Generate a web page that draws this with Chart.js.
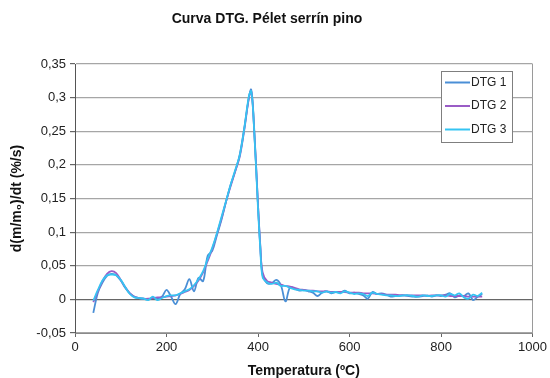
<!DOCTYPE html>
<html>
<head>
<meta charset="utf-8">
<script src="https://cdn.jsdelivr.net/npm/chart.js@4/dist/chart.umd.min.js"></script>
<style>
  html, body { margin: 0; padding: 0; background: #fff; }
  #wrap { width: 550px; height: 378px; }
</style>
</head>
<body>
<div id="wrap"><canvas id="grafico"></canvas></div>
<script>
// Temperaturas (ºC) comunes a los tres ensayos
const temps = [40, 50, 60, 70, 80, 90, 100, 110, 120, 130, 140, 150, 160, 170, 180, 190, 200,
    210, 220, 230, 240, 250, 260, 270, 280, 290, 300, 310, 320, 330, 340, 350, 360, 370, 380, 385,
    390, 400, 405, 410, 420, 430, 440, 450, 460, 470, 480, 490, 500, 510, 520, 530, 540, 550, 560,
    570, 580, 590, 600, 610, 620, 630, 640, 650, 660, 670, 680, 690, 700, 710, 720, 730, 740, 750,
    760, 770, 780, 790, 800, 810, 820, 830, 840, 850, 860, 870, 880, 890];

const dtg1 = [-0.020, 0.010, 0.025, 0.035, 0.038, 0.036, 0.028, 0.017, 0.009, 0.004, 0.002, 0.001,
    0.000, 0.002, 0.001, 0.004, 0.014, 0.004, -0.007, 0.008, 0.015, 0.030, 0.012, 0.032, 0.027,
    0.065, 0.072, 0.095, 0.118, 0.145, 0.170, 0.190, 0.215, 0.255, 0.300, 0.312, 0.275, 0.140,
    0.080, 0.036, 0.024, 0.024, 0.029, 0.021, -0.003, 0.018, 0.016, 0.013, 0.014, 0.012, 0.010,
    0.005, 0.010, 0.012, 0.009, 0.011, 0.010, 0.013, 0.009, 0.010, 0.008, 0.006, 0.001, 0.011,
    0.008, 0.009, 0.007, 0.004, 0.005, 0.006, 0.006, 0.005, 0.004, 0.004, 0.005, 0.006, 0.004,
    0.006, 0.005, 0.007, 0.009, 0.003, 0.006, 0.005, 0.009, -0.001, 0.004, 0.008];

const dtg2 = [-0.004, 0.012, 0.027, 0.038, 0.042, 0.039, 0.029, 0.018, 0.009, 0.004, 0.002, 0.001,
    0.001, 0.002, 0.003, 0.003, 0.004, 0.005, 0.006, 0.008, 0.011, 0.014, 0.020, 0.028, 0.040,
    0.057, 0.075, 0.097, 0.120, 0.145, 0.168, 0.190, 0.212, 0.252, 0.299, 0.310, 0.272, 0.140,
    0.078, 0.040, 0.027, 0.025, 0.023, 0.022, 0.020, 0.019, 0.017, 0.015, 0.014, 0.013, 0.013,
    0.012, 0.012, 0.012, 0.011, 0.011, 0.011, 0.011, 0.010, 0.010, 0.010, 0.009, 0.009, 0.009,
    0.008, 0.008, 0.007, 0.007, 0.007, 0.006, 0.006, 0.006, 0.006, 0.006, 0.006, 0.005, 0.006,
    0.006, 0.006, 0.006, 0.005, 0.005, 0.005, 0.005, 0.004, 0.004, 0.004, 0.004];

const dtg3 = [-0.002, 0.014, 0.028, 0.036, 0.037, 0.036, 0.029, 0.018, 0.008, 0.003, 0.002, 0.001,
    -0.001, 0.004, -0.001, 0.002, 0.005, 0.006, 0.006, 0.009, 0.012, 0.015, 0.021, 0.030, 0.042,
    0.060, 0.077, 0.098, 0.122, 0.146, 0.170, 0.192, 0.214, 0.254, 0.302, 0.310, 0.272, 0.135,
    0.075, 0.033, 0.025, 0.023, 0.025, 0.020, 0.020, 0.017, 0.015, 0.014, 0.013, 0.013, 0.012,
    0.012, 0.010, 0.012, 0.010, 0.011, 0.009, 0.012, 0.010, 0.008, 0.009, 0.008, 0.005, 0.010,
    0.008, 0.007, 0.006, 0.006, 0.005, 0.005, 0.006, 0.006, 0.005, 0.004, 0.006, 0.005, 0.005,
    0.006, 0.006, 0.004, 0.008, 0.006, 0.009, 0.003, 0.001, 0.007, 0.005, 0.010];

const series = [
    { label: 'DTG 1', values: dtg1, color: '#4a8fd6' },
    { label: 'DTG 2', values: dtg2, color: '#9a5cc6' },
    { label: 'DTG 3', values: dtg3, color: '#35c4f2' }
];

const fuente = 'Liberation Sans, Arial, sans-serif';

// Leyenda con recuadro dentro del área del gráfico
const leyendaCaja = {
    id: 'leyendaCaja',
    afterDraw(chart) {
        const ctx = chart.ctx;
        const x = 441, y = 71, w = 71, h = 71;
        ctx.save();
        ctx.fillStyle = '#fff';
        ctx.fillRect(x, y, w, h);
        ctx.strokeStyle = '#7f7f7f';
        ctx.lineWidth = 1;
        ctx.strokeRect(x + 0.5, y + 0.5, w, h);
        ctx.font = '12px ' + fuente;
        ctx.textBaseline = 'middle';
        chart.data.datasets.forEach((ds, i) => {
            const fy = y + 11.5 + i * 23.5;
            ctx.strokeStyle = ds.borderColor;
            ctx.lineWidth = 2;
            ctx.beginPath();
            ctx.moveTo(x + 4, fy);
            ctx.lineTo(x + 29, fy);
            ctx.stroke();
            ctx.fillStyle = '#222';
            ctx.fillText(ds.label, x + 30, fy);
        });
        ctx.restore();
    }
};

const ctx = document.getElementById('grafico').getContext('2d');
const myChart = new Chart(ctx, {
    type: 'line',
    data: {
        labels: temps,
        datasets: series.map((s, i) => ({
            label: s.label,
            data: temps.map((t, j) => ({ x: t, y: s.values[j] })),
            borderColor: s.color,
            backgroundColor: s.color,
            borderWidth: 1.8,
            pointRadius: 0,
            tension: 0.35,
            fill: false,
            order: 3 - i
        }))
    },
    options: {
        responsive: true,
        maintainAspectRatio: false,
        animation: false,
        layout: { padding: { top: 0, right: 16, bottom: 0, left: 0 } },
        plugins: {
            legend: { display: false },
            tooltip: { enabled: false },
            title: {
                display: true,
                text: 'Curva DTG. Pélet serrín pino',
                color: '#111',
                font: { family: fuente, size: 14, weight: 'bold' },
                padding: { top: 10.6, bottom: 36.6 }
            }
        },
        scales: {
            x: {
                type: 'linear',
                min: 0,
                max: 1000,
                ticks: {
                    stepSize: 200,
                    color: '#222',
                    font: { family: fuente, size: 13 },
                    padding: 3,
                    callback: v => String(v)
                },
                grid: {
                    color: c => c.tick && c.tick.value === 1000 ? '#9a9a9a' : 'transparent',
                    tickColor: '#666',
                    tickLength: 4,
                    drawOnChartArea: true
                },
                border: { display: true, color: '#8a8a8a', width: 1 },
                title: {
                    display: true,
                    text: 'Temperatura (ºC)',
                    color: '#111',
                    font: { family: fuente, size: 14, weight: 'bold', lineHeight: 1 },
                    padding: { top: 4, bottom: 0 }
                },
                afterFit(scale) { scale.height = 45; }
            },
            y: {
                min: -0.05,
                max: 0.35,
                ticks: {
                    stepSize: 0.05,
                    color: '#222',
                    font: { family: fuente, size: 13 },
                    padding: 4,
                    callback: v => (Math.round(v * 100) / 100).toString().replace('.', ',')
                },
                grid: {
                    color: c => c.tick && Math.abs(c.tick.value) < 1e-9 ? '#666' : '#a6a6a6',
                    lineWidth: 1.2,
                    tickColor: '#666',
                    tickLength: 5
                },
                border: { display: true, color: '#555', width: 1 },
                title: {
                    display: true,
                    text: 'd(m/m₀)/dt (%/s)',
                    color: '#111',
                    font: { family: fuente, size: 14, weight: 'bold' },
                    padding: { top: 9, bottom: 0 }
                },
                afterFit(scale) { scale.width = 75; }
            }
        }
    },
    plugins: [leyendaCaja]
});
</script>
</body>
</html>
